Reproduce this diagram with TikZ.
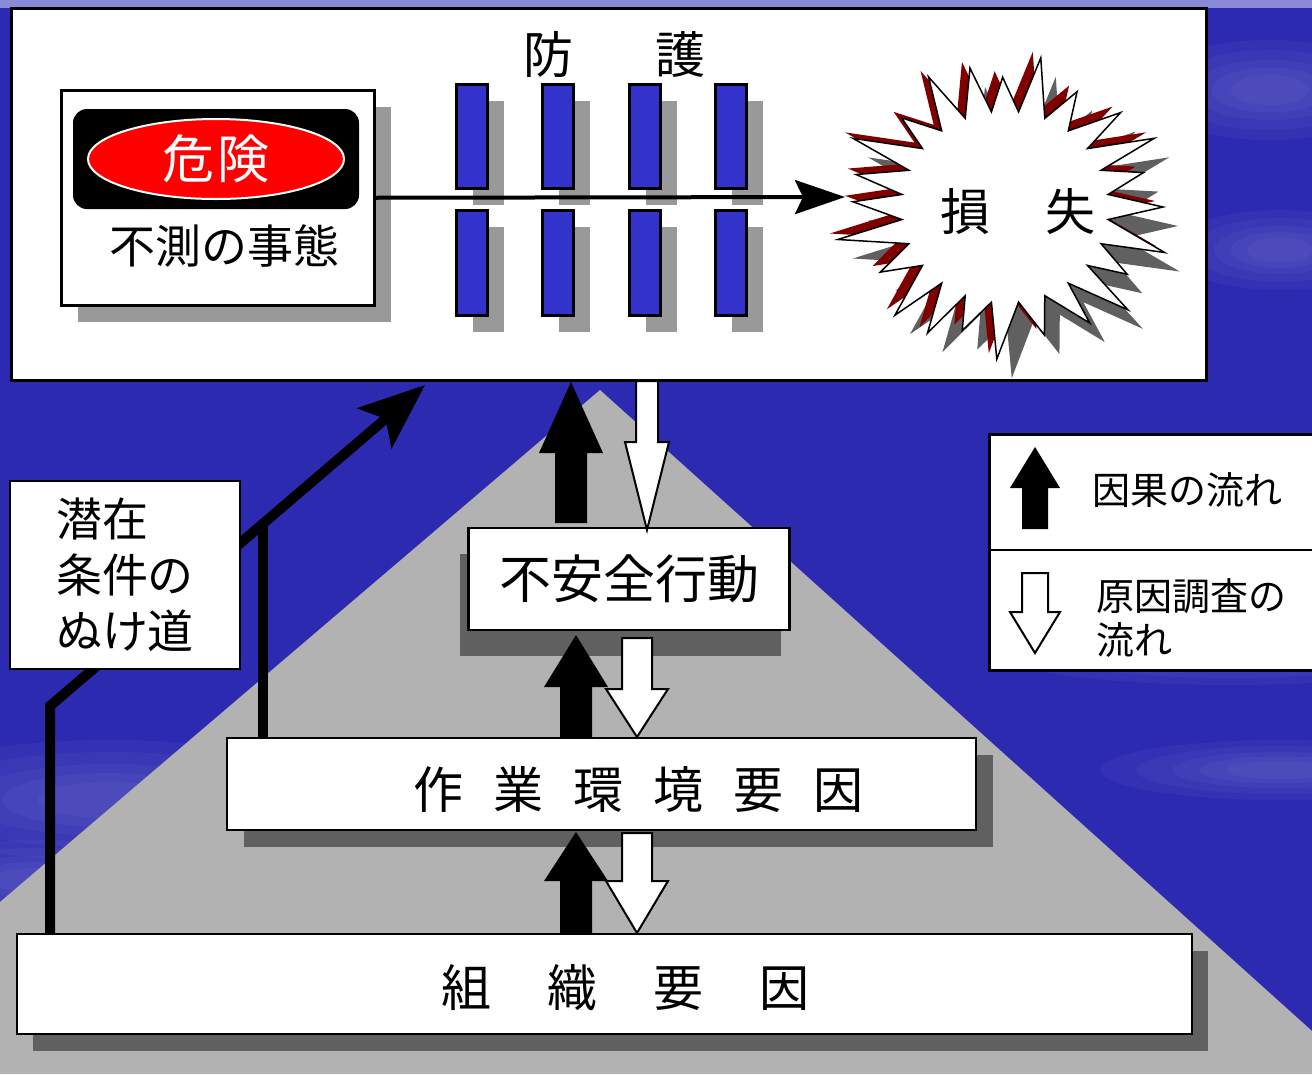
\documentclass[tikz,border=0pt]{standalone}
\usepackage{fontspec}
\setmainfont{Noto Sans CJK JP}
\usetikzlibrary{positioning,arrows.meta,shapes.geometric,shadows}

\definecolor{skyblue}{RGB}{45,42,178}
\definecolor{hillgray}{RGB}{178,178,178}
\definecolor{darkshadow}{RGB}{96,96,96}
\definecolor{lightshadow}{RGB}{153,153,153}
\definecolor{barblue}{RGB}{51,51,204}
\definecolor{burstred}{RGB}{128,0,0}

\begin{document}
\begin{tikzpicture}[x=1pt,y=-1pt,
  box/.style={draw,line width=2.5pt,fill=white,inner sep=0pt},
  shadowed/.style={general shadow={fill=#1,shadow xshift=17pt,shadow yshift=-17pt}},
  bar/.style={draw,line width=2.5pt,fill=barblue,minimum width=31pt,minimum height=104pt,anchor=north west,inner sep=0pt,shadowed=lightshadow},
  big/.style={font=\fontsize{50}{60}\selectfont,inner sep=0pt},
  legendtxt/.style={font=\fontsize{38}{44}\selectfont,inner sep=0pt,align=left},
  causal/.style={fill=black,line join=round},
  probe/.style={fill=white,draw=black,line width=2pt},
  leak/.style={line width=10pt,line join=miter},
  flow/.style={line width=4pt,-{Stealth[length=50pt,width=34pt,inset=8pt]}}]
\clip (0,0) rectangle (1312,1074);
\fill[skyblue] (0,0) rectangle (1312,1074);
\fill[skyblue!55!white] (0,0) rectangle (1312,8);
\foreach \ex/\ey/\rx/\ry in {110/800/240/60,40/880/170/40,1250/530/200/40,1230/650/240/35,1280/770/180/30,1270/90/130/50,1280/250/110/40}
  \foreach \s in {1,.8,.6,.45,.3}
    \fill[white,opacity=.035] (\ex,\ey) ellipse [x radius=\s*\rx, y radius=\s*\ry];
\fill[hillgray] (600,390) -- (1312,1031) -- (1312,1074) -- (0,1074) -- (0,902) -- cycle;

% upper panel
\node[box,minimum width=1195pt,minimum height=372pt,anchor=north west] (panel) at (10,7) {};
\node[box,minimum width=313pt,minimum height=215pt,anchor=north west,shadowed=lightshadow] (hazard) at (60,89) {};
\node[fill=black,rounded corners=14pt,minimum width=286pt,minimum height=100pt] (sign) at (216,159) {};
\node[ellipse,fill=red,draw=white,line width=2pt,minimum width=256pt,minimum height=80pt,text=white,font=\fontsize{52}{60}\selectfont,inner sep=0pt] (kiken) at (216,159) {危\hspace{4pt}険};
\node[font=\fontsize{46}{54}\selectfont,inner sep=0pt] (fusoku) at (224,246) {不測の事態};

\node[big] (guard) at (614,55) {防\hspace{82pt}護};
\foreach \x/\n in {455/1,541/2,628/3,714/4}{
  \node[bar] (bar\n a) at (\x,83) {};
  \node[bar,minimum height=105pt] (bar\n b) at (\x,209) {};}

\def\brx{158}\def\bry{140}\def\bix{104}\def\biy{96}
\foreach \dx/\dy/\col/\edge in {15/19/darkshadow/none,-8/-6/burstred/none,0/0/white/black}
  \filldraw[fill=\col,draw=\edge,line width=1.5pt,shift={(1005+\dx,207+\dy)}]
    (\brx,0) \foreach \k in {1,...,23}{
      -- ({\bix*cos(\k*15-7.5)},{\biy*sin(\k*15-7.5)})
      -- ({\brx*(1+.09*sin(\k*137))*cos(\k*15+3*sin(\k*71))},{\bry*(1+.09*sin(\k*137))*sin(\k*15+3*sin(\k*71))})}
    -- ({\bix*cos(352.5)},{\biy*sin(352.5)}) -- cycle;
\node[big] (loss) at (1018,212) {損\hspace{55pt}失};
\coordinate (lossin) at (845,197);
\draw[flow] (hazard.east) -- (lossin);

% latent path
\coordinate (leak0) at (50,934);
\coordinate (leak1) at (50,706);
\coordinate (leakend) at (425,385);
\coordinate (env0) at (263,738);
\coordinate (env1) at (263,524);
\draw[leak,-{Stealth[length=66pt,width=52pt,inset=14pt]}] (leak0) -- (leak1) -- (leakend);
\draw[leak] (env0) -- (env1);
\node[box,minimum width=230pt,minimum height=188pt,align=left,font=\fontsize{46}{56}\selectfont] (latent) at (125,575) {潜在\\条件の\\ぬけ道};

% legend
\node[box,minimum width=340pt,minimum height=236pt,anchor=north west] (legend) at (988,433) {};
\coordinate (divy) at (1000,550);
\draw[line width=2.5pt] (legend.west |- divy) -- (legend.east |- divy);
\node[legendtxt,anchor=west] (causaltxt) at (1092,490) {因果の流れ};
\node[legendtxt,anchor=west] (probetxt) at (1096,618) {原因調査の\\流れ};

% pyramid levels
\node[box,minimum width=321pt,minimum height=102pt,font=\fontsize{52}{60}\selectfont,
  general shadow={fill=darkshadow,shadow xshift=-9pt,shadow yshift=-26pt}] (unsafe) at (629,579) {不安全行動};
\node[box,minimum width=749pt,minimum height=92pt,shadowed=darkshadow] (env) at (601.5,784) {};
\node[big] (envtxt) at (638,790) {作\hspace{30pt}業\hspace{30pt}環\hspace{30pt}境\hspace{30pt}要\hspace{30pt}因};
\node[box,minimum width=1175pt,minimum height=100pt,general shadow={fill=darkshadow,shadow xshift=16pt,shadow yshift=-17pt}] (org) at (604.5,984) {};
\node[big] (orgtxt) at (625,988) {組\hspace{56pt}織\hspace{56pt}要\hspace{56pt}因};

\foreach \cx/\w/\hw/\yb/\ym/\yt in {571/16/32/523/453/382,576/16/32/738/687/635,576/16/32/933/881/832,1035/13/25/529/488/447}
  \fill[causal] (\cx-\w,\yb) -- (\cx-\w,\ym) -- (\cx-\hw,\ym) -- (\cx,\yt) -- (\cx+\hw,\ym) -- (\cx+\w,\ym) -- (\cx+\w,\yb) -- cycle;
\foreach \cx/\w/\hw/\yt/\ym/\yb in {647/11/22/381/442/530,637/15/31/638/689/737,637/15/31/833/881/933,1035/13/25/573/612/653}
  \filldraw[probe] (\cx-\w,\yt) -- (\cx-\w,\ym) -- (\cx-\hw,\ym) -- (\cx,\yb) -- (\cx+\hw,\ym) -- (\cx+\w,\ym) -- (\cx+\w,\yt) -- cycle;
\end{tikzpicture}
\end{document}
